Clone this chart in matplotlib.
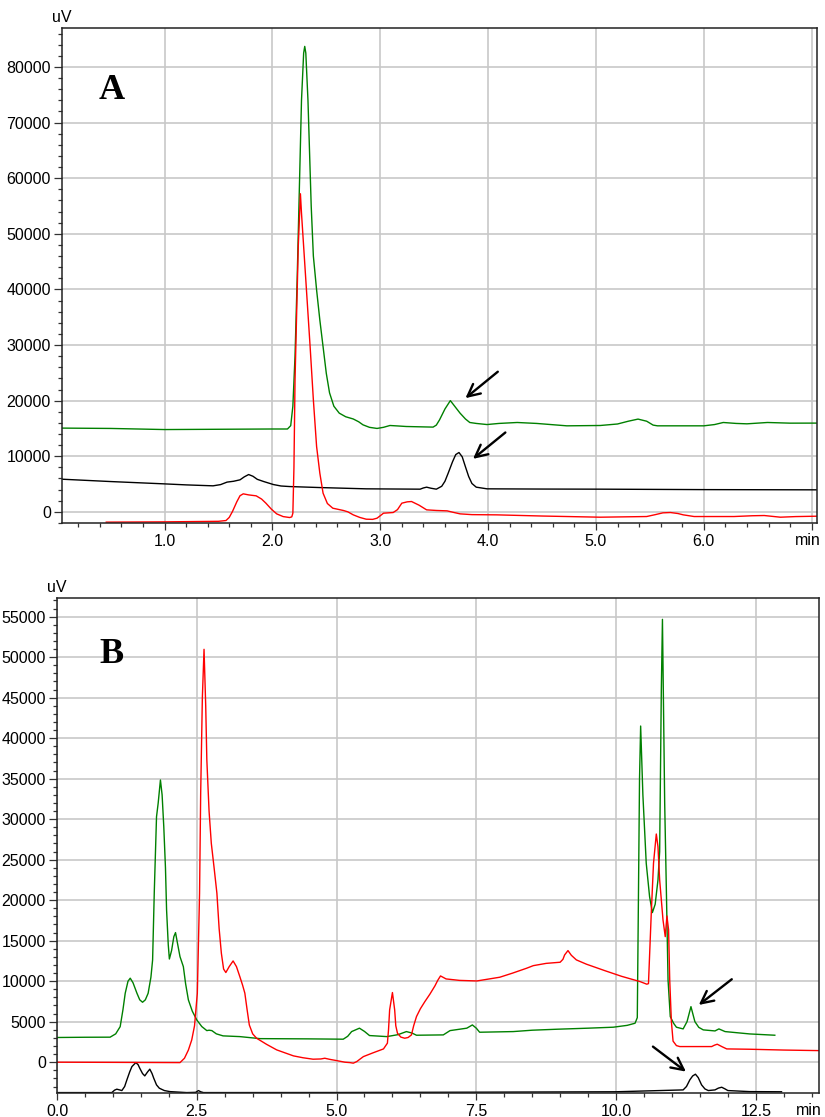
import matplotlib
matplotlib.use('Agg')
import matplotlib.pyplot as plt
from matplotlib.ticker import MultipleLocator, FuncFormatter

plt.rcParams['font.family'] = ['Liberation Sans', 'DejaVu Sans']

# panel A: retention time (min) / signal (uV)
a_green_t = [0.00, 0.05, 0.50, 1.00, 1.50, 2.00, 2.14, 2.17, 2.19, 2.21, 2.23, 2.25, 2.27, 2.29,
             2.30, 2.31, 2.33, 2.36, 2.38, 2.41, 2.44, 2.47, 2.50, 2.53, 2.57, 2.62, 2.68, 2.75,
             2.80, 2.84, 2.90, 2.97, 3.03, 3.09, 3.16, 3.24, 3.35, 3.49, 3.52, 3.55, 3.60, 3.65,
             3.69, 3.74, 3.79, 3.83, 3.89, 3.99, 4.10, 4.27, 4.45, 4.73, 5.04, 5.20, 5.30, 5.39,
             5.47, 5.53, 5.57, 6.00, 6.10, 6.18, 6.30, 6.40, 6.59, 6.80, 7.05]
a_green_v = [15100, 15060, 15000, 14800, 14850, 14900, 14900, 15500, 19000, 28000, 42000, 58000, 74000, 82500,
             83700, 82500, 74000, 55000, 46000, 39900, 34500, 29700, 24900, 21400, 19000, 17750, 17100, 16700,
             16200, 15650, 15200, 15000, 15200, 15530, 15450, 15350, 15300, 15240, 15600, 16550, 18500, 20000,
             19000, 17750, 16700, 16070, 15900, 15700, 15900, 16070, 15900, 15470, 15530, 15800, 16300, 16680,
             16300, 15600, 15470, 15470, 15700, 16070, 15900, 15830, 16070, 15950, 15960]

a_black_t = [0.00, 0.04, 0.50, 0.99, 1.20, 1.45, 1.52, 1.58, 1.64, 1.70, 1.74, 1.78, 1.82, 1.86,
             1.92, 2.01, 2.08, 2.16, 2.44, 2.87, 3.37, 3.40, 3.43, 3.47, 3.52, 3.57, 3.60, 3.63,
             3.67, 3.70, 3.73, 3.76, 3.79, 3.82, 3.85, 3.89, 3.99, 4.50, 5.04, 6.00, 7.05]
a_black_v = [5950, 5880, 5450, 5040, 4850, 4680, 4900, 5350, 5500, 5760, 6300, 6710, 6400, 5850,
             5450, 4910, 4650, 4550, 4370, 4140, 4080, 4300, 4440, 4250, 4080, 4600, 5500, 6960,
             9000, 10300, 10670, 9900, 8100, 6350, 5100, 4440, 4140, 4100, 4080, 4000, 3960]

a_red_t = [0.46, 1.00, 1.50, 1.57, 1.60, 1.63, 1.67, 1.70, 1.73, 1.78, 1.85, 1.90, 1.94, 1.99,
           2.04, 2.10, 2.16, 2.18, 2.19, 2.20, 2.21, 2.24, 2.26, 2.27, 2.28, 2.31, 2.35, 2.38,
           2.41, 2.44, 2.47, 2.51, 2.56, 2.66, 2.70, 2.75, 2.81, 2.87, 2.93, 2.97, 3.00, 3.03,
           3.12, 3.16, 3.20, 3.25, 3.29, 3.36, 3.43, 3.52, 3.62, 3.68, 3.74, 3.85, 4.08, 4.50,
           5.04, 5.47, 5.55, 5.62, 5.69, 5.76, 5.81, 5.91, 6.28, 6.45, 6.56, 6.71, 6.85, 7.05]
a_red_v = [-1850, -1800, -1700, -1560, -1000, 60, 1800, 2900, 3240, 3050, 2880, 2300, 1560, 500,
           -360, -850, -1020, -900, -240, 8000, 23700, 47700, 57200, 53700, 50700, 41700, 29700, 20150,
           11750, 6960, 3360, 1500, 660, 240, 0, -540, -1000, -1320, -1350, -1140, -700, -240,
           -120, 400, 1560, 1800, 1860, 1200, 360, 250, 180, -100, -360, -500, -540, -750,
           -960, -840, -500, -180, -120, -300, -540, -840, -840, -700, -660, -960, -850, -780]

# panel B
b_green_t = [0.00, 0.50, 0.95, 1.05, 1.13, 1.18, 1.22, 1.27, 1.31, 1.36, 1.43, 1.48, 1.53, 1.58,
             1.63, 1.68, 1.71, 1.74, 1.78, 1.81, 1.85, 1.88, 1.91, 1.94, 1.96, 1.99, 2.01, 2.05,
             2.09, 2.12, 2.16, 2.20, 2.26, 2.30, 2.35, 2.42, 2.50, 2.59, 2.68, 2.72, 2.77, 2.85,
             2.97, 3.27, 3.63, 4.50, 5.12, 5.20, 5.27, 5.41, 5.50, 5.59, 5.90, 6.10, 6.25, 6.35,
             6.43, 6.91, 7.03, 7.33, 7.43, 7.50, 7.56, 8.16, 8.50, 8.94, 9.50, 9.95, 10.20, 10.34,
             10.38, 10.40, 10.42, 10.44, 10.48, 10.54, 10.60, 10.65, 10.70, 10.75, 10.78, 10.81, 10.83, 10.87,
             10.90, 10.93, 10.97, 11.03, 11.08, 11.20, 11.27, 11.34, 11.41, 11.48, 11.56, 11.77, 11.84, 11.95,
             12.39, 12.84]
b_green_v = [3050, 3080, 3090, 3500, 4390, 6500, 8510, 10000, 10370, 9800, 8510, 7700, 7400, 7700,
             8510, 10500, 12620, 21000, 30300, 32000, 34840, 33000, 29070, 24000, 18790, 14500, 12740, 13800,
             15500, 16000, 14500, 13030, 11800, 9700, 7690, 6300, 5220, 4400, 3900, 3950, 3900, 3500,
             3250, 3160, 2910, 2880, 2840, 3200, 3780, 4200, 3800, 3290, 3160, 3400, 3780, 3600,
             3330, 3370, 3900, 4200, 4600, 4200, 3700, 3780, 3950, 4070, 4200, 4320, 4550, 4810,
             5500, 20000, 35000, 41500, 33000, 24560, 20430, 18470, 19500, 22500, 26000, 46000, 54670, 32000,
             21270, 10160, 5630, 4800, 4320, 4110, 5010, 6860, 5010, 4300, 3990, 3860, 4110, 3780,
             3490, 3330]

b_red_t = [0.00, 1.00, 2.20, 2.28, 2.35, 2.41, 2.46, 2.51, 2.55, 2.57, 2.60, 2.63, 2.66, 2.68,
           2.72, 2.76, 2.81, 2.86, 2.90, 2.94, 2.98, 3.02, 3.08, 3.15, 3.21, 3.27, 3.32, 3.36,
           3.40, 3.44, 3.50, 3.57, 3.75, 3.93, 4.10, 4.23, 4.40, 4.58, 4.72, 4.79, 4.88, 5.00,
           5.15, 5.24, 5.30, 5.36, 5.48, 5.65, 5.84, 5.91, 5.93, 5.95, 6.00, 6.04, 6.06, 6.09,
           6.15, 6.22, 6.28, 6.34, 6.38, 6.43, 6.50, 6.58, 6.67, 6.76, 6.81, 6.86, 6.96, 7.20,
           7.51, 7.92, 8.15, 8.40, 8.52, 8.75, 9.00, 9.05, 9.08, 9.14, 9.20, 9.29, 9.47, 9.80,
           10.10, 10.43, 10.55, 10.58, 10.63, 10.67, 10.72, 10.75, 10.78, 10.84, 10.88, 10.91, 10.94, 10.96,
           10.99, 11.02, 11.08, 11.14, 11.71, 11.76, 11.81, 11.90, 11.98, 12.39, 13.00, 13.64]
b_red_v = [0, -20, -50, 490, 1500, 2750, 4500, 8510, 20860, 33200, 45000, 50970, 44000, 37330,
           31000, 27030, 24000, 20860, 16500, 13450, 11500, 11070, 11800, 12500, 11800, 10570, 9500, 8520,
           6500, 4600, 3500, 2960, 2200, 1520, 1100, 780, 550, 370, 400, 490, 350, 200,
           0, -50, -120, 70, 690, 1150, 1640, 2350, 4000, 6460, 8600, 6460, 4500, 3580,
           3100, 2960, 3050, 3370, 4500, 5630, 6600, 7480, 8400, 9420, 10100, 10650, 10280, 10100,
           10030, 10490, 11000, 11600, 11920, 12200, 12340, 12700, 13240, 13780, 13200, 12630, 12100, 11300,
           10600, 9950, 9630, 9700, 18380, 24560, 28170, 26600, 22510, 17560, 15500, 18050, 16330, 10160,
           5000, 2600, 2050, 1930, 1930, 2100, 2220, 1900, 1640, 1600, 1500, 1430]

b_black_t = [0.00, 0.98, 1.03, 1.07, 1.12, 1.16, 1.21, 1.25, 1.30, 1.34, 1.41, 1.45, 1.48, 1.53,
             1.57, 1.62, 1.66, 1.70, 1.73, 1.78, 1.83, 1.92, 2.02, 2.32, 2.48, 2.53, 2.57, 2.62,
             5.00, 7.50, 10.00, 11.20, 11.26, 11.32, 11.37, 11.42, 11.47, 11.53, 11.59, 11.65, 11.77, 11.83,
             11.89, 11.95, 12.00, 12.39, 12.96]
b_black_v = [-3750, -3750, -3450, -3330, -3420, -3500, -3000, -2180, -1200, -540, -50, -300, -740, -1400,
             -1690, -1200, -860, -1400, -1970, -2800, -3210, -3500, -3630, -3750, -3720, -3500, -3650, -3750,
             -3740, -3700, -3650, -3420, -3000, -2180, -1700, -1480, -1900, -2800, -3300, -3500, -3420, -3200,
             -3090, -3300, -3500, -3630, -3650]

GREEN = '#008000'
RED = '#ff0000'
GRID = '#c8c8c8'


def style_axes(ax, xlim, ylim, xmaj, xmin, ymaj, ymin, xlast):
    ax.set_xlim(xlim)
    ax.set_ylim(ylim)
    ax.xaxis.set_major_locator(MultipleLocator(xmaj))
    ax.xaxis.set_minor_locator(MultipleLocator(xmin))
    ax.yaxis.set_major_locator(MultipleLocator(ymaj))
    ax.yaxis.set_minor_locator(MultipleLocator(ymin))
    ax.xaxis.set_major_formatter(FuncFormatter(
        lambda x, p: '' if x > xlast + 1e-6 else f'{x:.1f}'))
    ax.yaxis.set_major_formatter(FuncFormatter(lambda y, p: f'{y:.0f}'))
    ax.grid(True, which='major', color=GRID, lw=1.2)
    ax.set_axisbelow(True)
    ax.tick_params(which='major', length=6, width=0.9, labelsize=11.5, color='#333333',
                   pad=2)
    ax.tick_params(axis='x', which='major', length=5, pad=3)
    ax.tick_params(which='minor', length=3, width=0.9, color='#333333')
    for s in ax.spines.values():
        s.set_color('#222222')
        s.set_linewidth(1.1)
    ax.annotate('uV', xy=(0, 1), xycoords='axes fraction', xytext=(0, 2),
                textcoords='offset points', ha='center', va='bottom', fontsize=11.5)
    ax.annotate('min', xy=(1, 0), xycoords='axes fraction', xytext=(-7, -7),
                textcoords='offset points', ha='center', va='top', fontsize=11.5)


def arrow(ax, head, tail):
    ax.annotate('', xy=head, xytext=tail,
                arrowprops=dict(arrowstyle='->', color='black', lw=1.7,
                                mutation_scale=22, shrinkA=0, shrinkB=0))


fig = plt.figure(figsize=(8.25, 11.17), dpi=100)
axA = fig.add_axes([0.0752, 0.5318, 0.9152, 0.4431])
axB = fig.add_axes([0.0691, 0.0215, 0.9236, 0.4431])

lw = 1.0
axA.plot(a_black_t, a_black_v, color='black', lw=lw)
axA.plot(a_green_t, a_green_v, color=GREEN, lw=lw)
axA.plot(a_red_t, a_red_v, color=RED, lw=lw)
style_axes(axA, (0.05, 7.05), (-2000, 87000), 1.0, 0.2, 10000, 2000, 6.5)
arrow(axA, (3.79, 20450), (4.09, 25200))
arrow(axA, (3.86, 9530), (4.16, 14270))
axA.text(0.066, 0.873, 'A', transform=axA.transAxes, ha='center', va='center',
         fontsize=26, fontweight='bold', family='Liberation Serif')

axB.plot(b_black_t, b_black_v, color='black', lw=lw)
axB.plot(b_green_t, b_green_v, color=GREEN, lw=lw)
axB.plot(b_red_t, b_red_v, color=RED, lw=lw)
style_axes(axB, (0.0, 13.63), (-3800, 57300), 2.5, 0.5, 5000, 1000, 13.0)
arrow(axB, (11.48, 7070), (12.07, 10240))
arrow(axB, (11.25, -1160), (10.66, 1925))
axB.text(0.072, 0.885, 'B', transform=axB.transAxes, ha='center', va='center',
         fontsize=26, fontweight='bold', family='Liberation Serif')

fig.savefig('out.png', dpi=100)
